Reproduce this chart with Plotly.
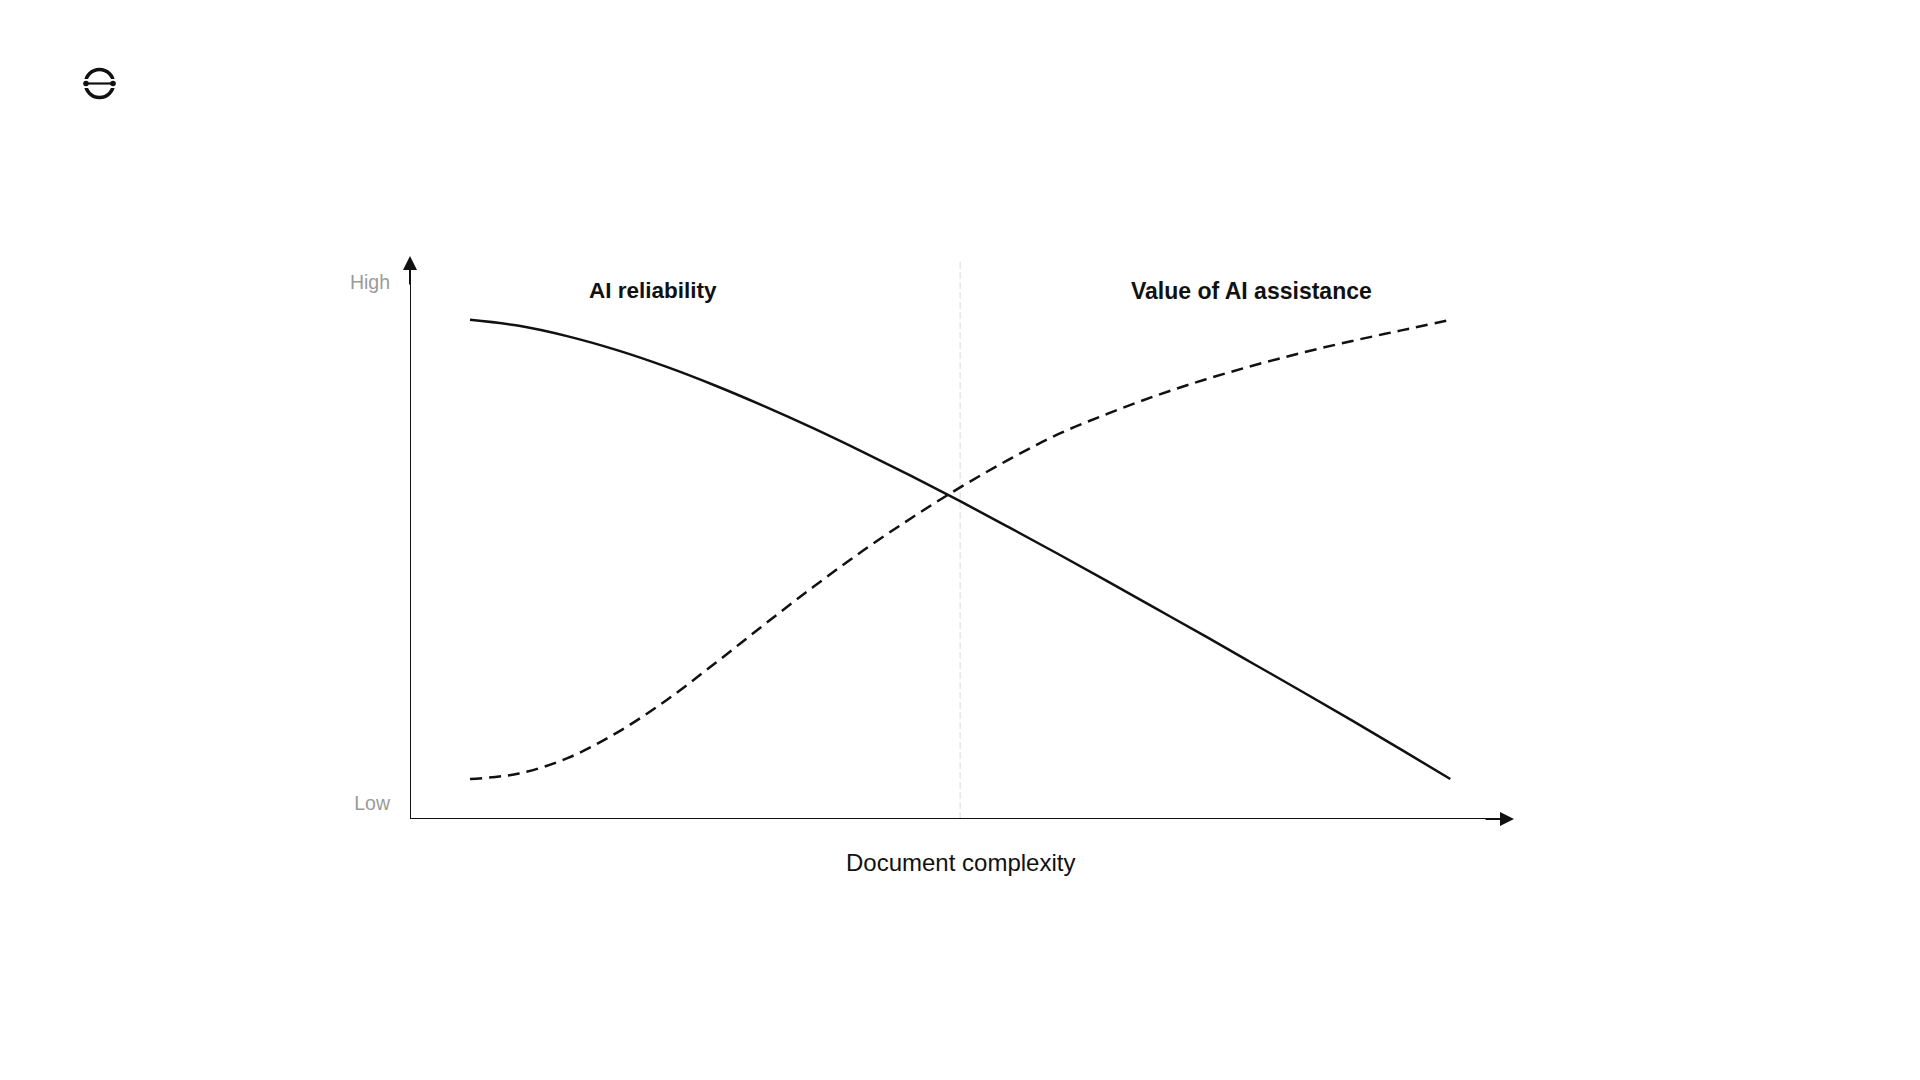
import plotly.graph_objects as go

# ---- data ----
complexity = [0.0, 0.5, 1.0, 1.5, 2.0, 2.5, 3.0, 3.5, 4.0, 4.5, 5.0,
              5.5, 6.0, 6.5, 7.0, 7.5, 8.0, 8.5, 9.0, 9.5, 10.0]
ai_reliability = [10.0, 9.87, 9.64, 9.34, 8.98, 8.57, 8.12, 7.64, 7.13, 6.60, 6.05,
                  5.48, 4.90, 4.31, 3.71, 3.11, 2.50, 1.89, 1.27, 0.64, 0.0]
value_of_ai = [0.0, 0.12, 0.46, 1.01, 1.71, 2.52, 3.36, 4.18, 4.96, 5.68, 6.35,
               6.96, 7.51, 7.95, 8.35, 8.70, 9.01, 9.29, 9.54, 9.77, 10.0]
divider_x = 5.0
y_tick_vals = [-0.52, 10.81]
y_tick_text = ["Low", "High"]
x_range = [-0.612, 10.65]
y_range = [-0.871, 11.39]

FONT = "Liberation Sans, Arial, Helvetica, sans-serif"
INK = "#111111"
W, H = 1920, 1080
ML, MR, MT, MB = 410, 406, 256, 261
PW, PH = W - ML - MR, H - MT - MB


def px2x(px):
    return (px - ML) / PW


def py2y(py):
    return (H - MB - py) / PH


fig = go.Figure()

fig.add_trace(go.Scatter(
    x=complexity, y=ai_reliability, mode="lines", name="AI reliability",
    line=dict(color=INK, width=2.5, shape="spline", smoothing=1.0),
    hoverinfo="skip"))
fig.add_trace(go.Scatter(
    x=complexity, y=value_of_ai, mode="lines", name="Value of AI assistance",
    line=dict(color=INK, width=2.5, dash="12px,7px", shape="spline", smoothing=1.0),
    hoverinfo="skip"))

shapes = []
# divider
shapes.append(dict(type="line", xref="x", yref="y", x0=divider_x, x1=divider_x,
                   y0=y_range[0], y1=11.3,
                   line=dict(color="#dcdcdc", width=1, dash="7px,3px"), layer="below"))
# axes lines
shapes.append(dict(type="line", xref="x", yref="y", x0=x_range[0], x1=x_range[1] - 0.05,
                   y0=y_range[0], y1=y_range[0], line=dict(color=INK, width=2)))
shapes.append(dict(type="line", xref="x", yref="y", x0=x_range[0], x1=x_range[0],
                   y0=y_range[0], y1=y_range[1] - 0.1, line=dict(color=INK, width=2)))

# logo
cx, cy, r = 99.5, 83.5, 14.0
shapes.append(dict(type="circle", xref="paper", yref="paper",
                   x0=px2x(cx - r), x1=px2x(cx + r), y0=py2y(cy + r), y1=py2y(cy - r),
                   line=dict(color=INK, width=3.5)))
shapes.append(dict(type="rect", xref="paper", yref="paper",
                   x0=px2x(cx - r - 4), x1=px2x(cx + r + 4), y0=py2y(cy + 4.5), y1=py2y(cy - 4.5),
                   fillcolor="white", line=dict(width=0)))
shapes.append(dict(type="line", xref="paper", yref="paper",
                   x0=px2x(cx - r + 0.5), x1=px2x(cx + r - 0.5), y0=py2y(cy), y1=py2y(cy),
                   line=dict(color=INK, width=2.2)))
for dx in (-r + 0.5, r - 0.5):
    shapes.append(dict(type="circle", xref="paper", yref="paper",
                       x0=px2x(cx + dx - 2.8), x1=px2x(cx + dx + 2.8),
                       y0=py2y(cy + 2.8), y1=py2y(cy - 2.8),
                       fillcolor=INK, line=dict(width=0)))

annotations = [
    # arrow heads
    dict(x=x_range[1], y=y_range[0], xref="x", yref="y", ax=-30, ay=0, text="",
         showarrow=True, arrowhead=2, arrowsize=1.4, arrowwidth=2, arrowcolor=INK),
    dict(x=x_range[0], y=y_range[1], xref="x", yref="y", ax=0, ay=30, text="",
         showarrow=True, arrowhead=2, arrowsize=1.4, arrowwidth=2, arrowcolor=INK),
    # series labels
    dict(x=1.87, y=10.63, xref="x", yref="y", text="<b>AI reliability</b>", showarrow=False,
         font=dict(family=FONT, size=22.5, color=INK), xanchor="center", yanchor="middle"),
    dict(x=7.97, y=10.63, xref="x", yref="y", text="<b>Value of AI assistance</b>", showarrow=False,
         font=dict(family=FONT, size=23, color=INK), xanchor="center", yanchor="middle"),
    # x-axis title
    dict(x=divider_x, y=0, xref="x", yref="paper", yshift=-43, text="Document complexity",
         showarrow=False, font=dict(family=FONT, size=24, color=INK),
         xanchor="center", yanchor="middle"),
]

fig.update_layout(
    width=W, height=H, autosize=False,
    margin=dict(l=ML, r=MR, t=MT, b=MB, pad=0),
    paper_bgcolor="white", plot_bgcolor="white",
    showlegend=False,
    xaxis=dict(range=x_range, showgrid=False, zeroline=False, showline=False,
               showticklabels=False, ticks="", fixedrange=True),
    yaxis=dict(range=y_range, showgrid=False, zeroline=False, showline=False,
               tickvals=y_tick_vals, ticktext=y_tick_text, ticks="",
               ticklabelstandoff=19,
               tickfont=dict(family=FONT, size=19.5, color="#9a9a9a"), fixedrange=True),
    shapes=shapes,
    annotations=annotations,
)

fig.write_html(
    "out.html",
    config={"displayModeBar": False},
    post_script="document.body.style.margin='0';document.body.style.overflow='hidden';",
)
